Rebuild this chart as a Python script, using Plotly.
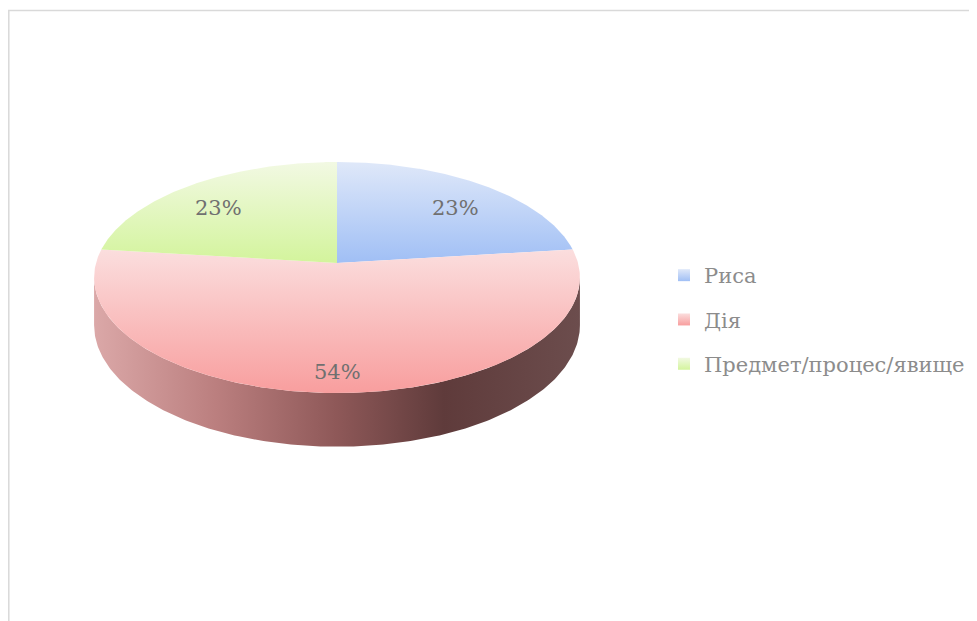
import math
import plotly.graph_objects as go

# ---- data ----
categories = ["Риса", "Дія", "Предмет/процес/явище"]
values = [3, 7, 3]

# ---- styles ----
top_light = ["#dfe8f9", "#fbdede", "#f2f9e3"]
top_dark = ["#a0bff5", "#f89e9e", "#d3f49c"]
side_scale = [[0.0, "#dba8a8"], [0.25, "#bb7f7f"], [0.5, "#8e5858"],
              [0.72, "#5f3b3b"], [1.0, "#6c4d4d"]]
FONT = "DejaVu Serif"

OFF = 8                   # page body margin of the browser
W, H = 977 - OFF, 621 - OFF
cx, cy = 337, 263        # pie centre (page pixels)
a, b = 241, 113.7        # horizontal / vertical radii
p = 0.1255               # perspective factor
depth = 47               # thickness of the pie


def proj(theta_deg, k=1.0, drop=0.0):
    t = math.radians(theta_deg)
    u, v = k * math.sin(t), k * math.cos(t)
    s = 1.0 / (1.0 + p * v)
    return cx + a * u * s, cy - b * v * s + drop * s


def arc(t0, t1, n=240, drop=0.0):
    xs, ys = [], []
    for i in range(n + 1):
        x, y = proj(t0 + (t1 - t0) * i / n, drop=drop)
        xs.append(x)
        ys.append(y)
    return xs, ys


fig = go.Figure()

total = sum(values)
angles = [0]
for v in values:
    angles.append(angles[-1] + 360.0 * v / total)

# side (visible front part)
tw = math.degrees(math.acos(-p))
sx1, sy1 = arc(tw, 360 - tw)
sx2, sy2 = arc(360 - tw, tw, drop=depth)
fig.add_trace(go.Scatter(
    x=sx1 + sx2, y=sy1 + sy2, mode="lines", fill="toself",
    line=dict(width=0, color="rgba(0,0,0,0)"),
    fillgradient=dict(type="horizontal", colorscale=side_scale,
                      start=cx - a * 1.01, stop=cx + a * 1.01),
    showlegend=False, hoverinfo="skip"))

# top faces
for i, cat in enumerate(categories):
    xs, ys = arc(angles[i], angles[i + 1])
    xs = [cx] + xs + [cx]
    ys = [cy] + ys + [cy]
    fig.add_trace(go.Scatter(
        x=xs, y=ys, mode="lines", fill="toself",
        line=dict(width=0, color="rgba(0,0,0,0)"),
        fillgradient=dict(type="vertical",
                          colorscale=[[0, top_light[i]], [1, top_dark[i]]],
                          start=min(ys), stop=max(ys)),
        showlegend=False, hoverinfo="skip"))

# percentage labels
for i, v in enumerate(values):
    mid = (angles[i] + angles[i + 1]) / 2
    x, y = proj(mid, k=0.8)
    fig.add_annotation(x=x, y=y + 8, text=f"{round(100 * v / total)}%",
                       showarrow=False, xanchor="center", yanchor="middle",
                       font=dict(family=FONT, size=21, color="#707070"))

# legend entries
for i, cat in enumerate(categories):
    fig.add_trace(go.Scatter(
        x=[None], y=[None], mode="markers", name=cat, legendgroup=cat,
        marker=dict(symbol="square", size=12, color=top_light[i],
                    gradient=dict(type="vertical", color=top_dark[i]),
                    line=dict(width=0))))

# border
fig.add_shape(type="rect", xref="paper", yref="paper",
              x0=0.8 / W, x1=1.05, y0=-0.05, y1=1 - (10.5 - OFF) / H,
              line=dict(color="#d9d9d9", width=1.5))

fig.update_layout(
    width=W, height=H, autosize=False,
    margin=dict(l=0, r=0, t=0, b=0),
    paper_bgcolor="white", plot_bgcolor="white",
    xaxis=dict(range=[OFF, 977], visible=False, fixedrange=True),
    yaxis=dict(range=[621, OFF], visible=False, fixedrange=True),
    hovermode=False,
    showlegend=True,
    legend=dict(x=(664 - OFF) / W, y=1 - (255 - OFF) / H,
                xanchor="left", yanchor="top",
                font=dict(family=FONT, size=21, color="#8c8c8c"),
                tracegroupgap=14, bgcolor="rgba(0,0,0,0)"),
)

fig.write_html("out.html")
